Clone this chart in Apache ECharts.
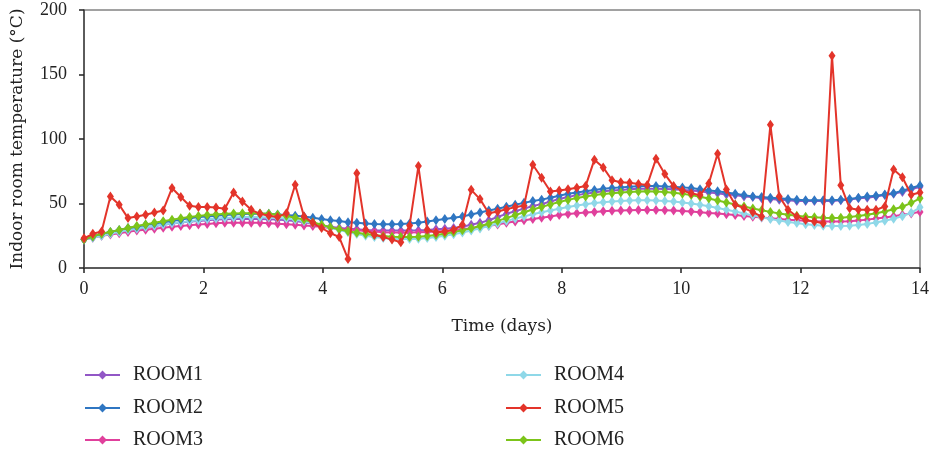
<!DOCTYPE html>
<html>
<head>
<meta charset="utf-8">
<script src="https://cdn.jsdelivr.net/npm/echarts@6/dist/echarts.min.js"></script>
<style>html,body{margin:0;padding:0;background:#fff}#c{width:935px;height:455px}</style>
</head>
<body>
<div id="c"></div>
<script>
// 96 samples over 14 days (step 14/95 day)
const nPoints = 96;
const totalDays = 14;
const xTicks = [0, 2, 4, 6, 8, 10, 12, 14];
const yTicks = [0, 50, 100, 150, 200];
const seriesNames = ['ROOM1', 'ROOM2', 'ROOM3', 'ROOM4', 'ROOM5', 'ROOM6'];

const room1 = [22,24,25.5,27,28,29.5,30.5,31.5,32.5,33.5,34.5,35.2,36,36.5,37,37.5,37.8,38,38,38,38,37.8,37.5,37,36.5,35.5,34.5,33,32,31,30.5,30,29.5,29,29,29,29,29,29.2,29.5,30,30.5,31,32,33.5,35,37,39.5,42,44,46,48,49.5,51.5,53.5,55,56.5,57.5,58.5,59.5,60,60.5,61,61.5,61.5,61.5,61.3,61,60.5,60,59.5,58.5,58,57,56.5,55.5,55,54,53.5,53,52.5,52,52,52,52,52,52.5,53,54,54.5,55.5,56.5,57.5,59,61,63];
const room2 = [22,24.5,26.5,28,29.5,31,32,33.5,34.5,35.5,36.5,37.5,38.5,39.5,40,40.5,41,41.5,41.8,42,42,42,41.5,41,40.5,40,39,38,37,36.5,35.5,35,34.5,34.2,34,34,34.2,34.5,35,36,37,38,39,40,41.5,43,44.5,46,47.5,49,50.5,52,53,54.5,56,57.5,58.5,59.5,60.5,61.5,62,62.5,63,63.3,63.5,63.5,63.2,63,62.5,62,61,60,59.5,58.5,57.5,56.5,55.5,55,54.5,54,53.5,53,52.5,52.5,52.5,52.5,53,53.5,54.5,55.5,56,57,58,60,62,64];
const room3 = [22,23.5,25,26,27,28,29,29.7,30.5,31.2,32,32.6,33.2,33.8,34.2,34.6,35,35,35,35,35,34.7,34.3,34,33.5,33,32.5,31.8,31,30.5,29.8,29.2,28.7,28.2,27.8,27.5,27.5,27.5,27.7,28,28.3,28.7,29.2,30,30.8,31.7,32.7,33.8,35,36,37,38,39,40,41,41.8,42.5,43,43.5,44,44.3,44.6,44.8,45,45,45,44.8,44.5,44.2,43.8,43.3,42.7,42.2,41.6,41,40.4,39.8,39.2,38.6,38,37.4,37,36.6,36.3,36,36,36,36.3,36.8,37.5,38.3,39.2,40.2,41.2,42.3,43.5];
const room4 = [22,23.5,25,26.5,28,29.5,30.5,31.7,32.7,33.7,34.7,35.5,36.3,37,37.7,38.3,38.8,39.2,39.5,39.5,39.4,39.2,38.8,38.3,37.5,36.3,34.8,33,31.2,29.5,27.8,26.3,25,24,23.2,22.7,22.5,22.5,22.7,23.2,24,25,26.2,27.5,29,30.7,32.5,34.5,36.5,38.3,40,41.7,43.2,44.6,46,47.3,48.5,49.5,50.3,51,51.6,52,52.3,52.5,52.5,52.3,52,51.5,50.8,50,49,47.8,46.5,45.2,43.8,42.3,40.8,39.3,38,36.8,35.7,34.8,34,33.3,32.8,32.5,32.5,32.8,33.4,34.2,35.3,36.6,38.2,40.2,42.8,47];
const room5 = [23,26.5,28.3,55.5,49,38.7,40,41.3,43,44.6,62,55,48.2,47.2,47.2,46.9,45.9,58.5,51.5,45.1,42,40.5,39.5,42.5,64.5,40,35,31,27,24,7,73.5,29.6,25.8,24,22,20,33,79,29.6,27.6,28.3,29.6,33.5,60.6,53.4,42.5,43.8,45.6,47.2,48.2,80,70,59.3,60,61,62.2,63.5,84,78,68,66.5,66,65.2,64.3,84.6,72.8,63.5,60,58,56.5,65.5,88.5,60.8,49,46.4,43.3,39.9,111,55.5,45.1,39.9,37.3,36,34.7,164.5,64.1,46.4,45.1,45.1,45.1,47.7,76.4,70.4,56.8,58.5];
const room6 = [22,24.5,26.5,28,29.5,31,32.5,33.8,35,36.3,37.5,38.5,39.5,40.3,41,41.5,42,42.3,42.5,42.5,42.3,42,41.3,40.3,39,37.5,35.5,33.5,31.5,30,28.5,27.3,26.3,25.5,24.8,24.3,24,24,24.3,24.8,25.6,26.6,27.8,29.2,30.8,32.5,34.3,36.5,38.7,41,43.2,45.3,47.3,49.3,51.2,52.8,54.2,55.5,56.5,57.3,58,58.5,59,59.3,59.5,59.3,59,58.3,57.5,56.5,55.2,53.8,52.3,50.8,49.2,47.7,46.2,44.8,43.5,42.3,41.3,40.5,39.8,39.3,39,38.8,39,39.5,40.3,41.3,42.5,43.8,45.5,47.5,50.5,54];

const colors = {ROOM1:'#9257c6', ROOM2:'#2f76c2', ROOM3:'#e0409c', ROOM4:'#8fd8e8', ROOM5:'#e3342a', ROOM6:'#7cc41a'};
const values = {ROOM1:room1, ROOM2:room2, ROOM3:room3, ROOM4:room4, ROOM5:room5, ROOM6:room6};
const zOrder = {ROOM1:2, ROOM3:3, ROOM4:4, ROOM2:5, ROOM6:6, ROOM5:7};

function pairs(arr){
  return arr.map((v,i)=>[i*totalDays/(nPoints-1), v]);
}

const legendPos = {
  ROOM1:[84,365], ROOM2:[84,398], ROOM3:[84,430],
  ROOM4:[505,365], ROOM5:[505,398], ROOM6:[505,430]
};

const chart = echarts.init(document.getElementById('c'));
const serif = 'DejaVu Serif';
const tickFont = 'Liberation Serif';
chart.setOption({
  animation:false,
  backgroundColor:'#fff',
  grid:{left:84, right:15, top:10, bottom:187, show:true, borderColor:'#444', borderWidth:1},
  legend: seriesNames.map(n=>({
    data:[n], orient:'horizontal', left:legendPos[n][0], top:legendPos[n][1], padding:0,
    itemWidth:35, itemHeight:11, selectedMode:false,
    textStyle:{fontFamily:tickFont, fontSize:20, color:'#222', lineHeight:20, padding:[0,0,0,8]}
  })),
  xAxis:{type:'value', min:0, max:14, interval:2,
    name:'Time (days)', nameLocation:'middle', nameGap:50,
    nameTextStyle:{fontFamily:serif, fontSize:17, color:'#222'},
    axisLine:{show:true, lineStyle:{color:'#444', width:1.5}},
    axisTick:{show:true, inside:false, length:5, lineStyle:{color:'#222', width:1.5}},
    axisLabel:{fontFamily:tickFont, fontSize:18, color:'#222', margin:12, formatter:v=>xTicks.includes(v)?String(v):''},
    splitLine:{show:false}},
  yAxis:{type:'value', min:0, max:200, interval:50,
    name:'Indoor room temperature (°C)', nameLocation:'middle', nameGap:58,
    nameTextStyle:{fontFamily:serif, fontSize:17, color:'#222'},
    axisLine:{show:true, lineStyle:{color:'#444', width:1.5}},
    axisTick:{show:true, inside:false, length:5, lineStyle:{color:'#222', width:1.5}},
    axisLabel:{fontFamily:tickFont, fontSize:18, color:'#222', margin:17, formatter:v=>yTicks.includes(v)?String(v):''},
    splitLine:{show:false}},
  series: seriesNames.map(n=>({
    name:n, type:'line', data:pairs(values[n]), z:zOrder[n],
    symbol:'diamond', symbolSize:[7,10], showSymbol:true,
    lineStyle:{color:colors[n], width:2},
    itemStyle:{color:colors[n], borderWidth:0},
    emphasis:{disabled:true}
  }))
});
</script>
</body>
</html>
